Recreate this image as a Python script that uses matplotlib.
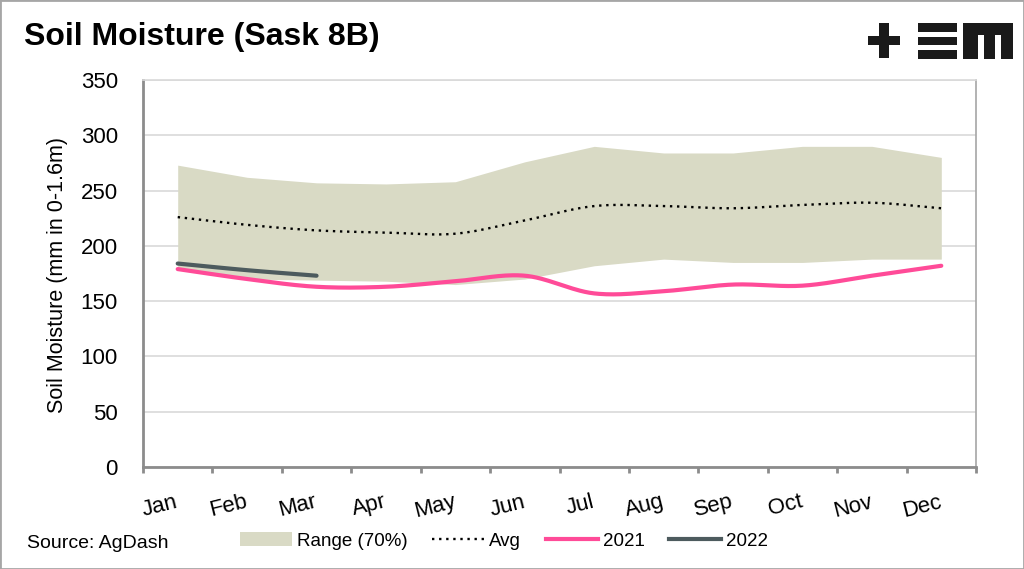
import numpy as np
import matplotlib
matplotlib.use("Agg")
import matplotlib.pyplot as plt
from matplotlib.patches import Rectangle, Patch
from matplotlib.lines import Line2D

plt.rcParams['font.family'] = ['Liberation Sans', 'DejaVu Sans']

months = ["Jan", "Feb", "Mar", "Apr", "May", "Jun", "Jul", "Aug", "Sep", "Oct", "Nov", "Dec"]
range_low = [180, 170, 169, 168, 165, 170, 182, 188, 185, 185, 188, 188]
range_high = [273, 262, 257, 256, 258, 276, 290, 284, 284, 290, 290, 280]
avg = [226, 219, 214, 212, 211, 223, 236, 236, 234, 237, 239, 234]
y2021 = [179, 170, 163, 163, 168, 173, 157, 159, 165, 164, 173, 182]
y2022 = [184, 178, 173]


def smooth(xs, ys, n=30):
    """Catmull-Rom rendering of a smoothed line (as Excel's smooth line)."""
    xs = np.asarray(xs, float)
    ys = np.asarray(ys, float)
    px = np.concatenate([[2 * xs[0] - xs[1]], xs, [2 * xs[-1] - xs[-2]]])
    py = np.concatenate([[2 * ys[0] - ys[1]], ys, [2 * ys[-1] - ys[-2]]])
    ox, oy = [], []
    t = np.linspace(0, 1, n)
    for i in range(1, len(px) - 2):
        for arr, out in ((px, ox), (py, oy)):
            p0, p1, p2, p3 = arr[i - 1], arr[i], arr[i + 1], arr[i + 2]
            c1 = p1 + (p2 - p0) / 6
            c2 = p2 - (p3 - p1) / 6
            seg = ((1 - t) ** 3 * p1 + 3 * (1 - t) ** 2 * t * c1
                   + 3 * (1 - t) * t ** 2 * c2 + t ** 3 * p2)
            out.extend(seg if i == 1 else seg[1:])
    return np.array(ox), np.array(oy)


fig = plt.figure(figsize=(10.24, 5.69), dpi=100)
ax = fig.add_axes([143 / 1024, 1 - 467 / 569, (976 - 143) / 1024, (467 - 80) / 569])

x = np.arange(len(months))
band_col = "#D9DAC5"
pink = "#FF4B98"
dark = "#4D5B5E"
dots = (0, (1, 2.0))

ax.fill_between(x, range_low, range_high, color=band_col, lw=0, zorder=2)
sx, sy = smooth(x, avg)
ax.plot(sx, sy, color="black", lw=1.7, linestyle=dots, zorder=3)
sx, sy = smooth(x, y2021)
ax.plot(sx, sy, color=pink, lw=3, solid_capstyle="round", zorder=4)
x22 = np.arange(len(y2022))
sx, sy = smooth(x22, y2022)
ax.plot(sx, sy, color=dark, lw=3, solid_capstyle="round", zorder=5)

ax.set_xlim(-0.5, 11.5)
ax.set_ylim(0, 350)
ax.set_yticks(np.arange(0, 351, 50))
ax.yaxis.grid(True, color="#D9D9D9", lw=1.2, zorder=0)
ax.set_axisbelow(True)
ax.tick_params(axis='y', length=0, pad=18, labelsize=16)
ax.set_xticks(x)
ax.set_xticklabels(months, rotation=14, fontsize=16)
ax.set_xticks(np.arange(-0.5, 12, 1), minor=True)
ax.tick_params(axis='x', which='major', length=0, pad=25)
ax.tick_params(axis='x', which='minor', length=4, width=2, color="#8C8C8C")
for lab in ax.get_xticklabels():
    lab.set_rotation_mode("anchor")
    lab.set_horizontalalignment("right")
    lab.set_verticalalignment("center")
for s in ax.spines.values():
    s.set_color("#A6A6A6")
    s.set_linewidth(1.2)
ax.spines['left'].set_color("#8C8C8C")
ax.spines['left'].set_linewidth(2)
ax.spines['bottom'].set_color("#8C8C8C")
ax.spines['bottom'].set_linewidth(2)
ax.spines['top'].set_color("#D9D9D9")

fig.text(58 / 1024, 1 - 275 / 569, "Soil Moisture (mm in 0-1.6m)", fontsize=15.5,
         rotation=90, va="center", ha="center")

fig.text(24 / 1024, 1 - 37 / 569, "Soil Moisture (Sask 8B)", fontsize=23, fontweight="bold",
         va="center", ha="left")
fig.text(27 / 1024, 1 - 543 / 569, "Source: AgDash", fontsize=14, va="center", ha="left")

handles = [Patch(facecolor=band_col, edgecolor="none"),
           Line2D([], [], color="black", lw=1.7, linestyle=dots),
           Line2D([], [], color=pink, lw=3),
           Line2D([], [], color=dark, lw=3)]
fig.legend(handles, ["Range (70%)", "Avg", "2021", "2022"], ncol=4, frameon=False,
           loc="center", bbox_to_anchor=(504 / 1024, 1 - 541 / 569), fontsize=13.5,
           handlelength=2.8, handletextpad=0.25, columnspacing=1.3)

# logo
H = 569.0
def rect(x0, y0, x1, y1):
    fig.patches.append(Rectangle((x0 / 1024, 1 - y1 / H), (x1 - x0) / 1024, (y1 - y0) / H,
                                 transform=fig.transFigure, color="#1A1A1A", lw=0))
rect(868, 36, 900, 45)
rect(879, 23, 889, 58)
rect(918, 23, 957, 31.5)
rect(918, 37, 957, 45)
rect(918, 50.5, 957, 58.5)
rect(963, 23, 1013, 35)
rect(963, 23, 978, 58.5)
rect(984, 23, 995, 58.5)
rect(1001, 23, 1013, 58.5)

# figure border
fig.patches.append(Rectangle((0, 0), 1, 1, transform=fig.transFigure, fill=False,
                             edgecolor="#A6A6A6", lw=2))

fig.savefig("out.png", dpi=100)
